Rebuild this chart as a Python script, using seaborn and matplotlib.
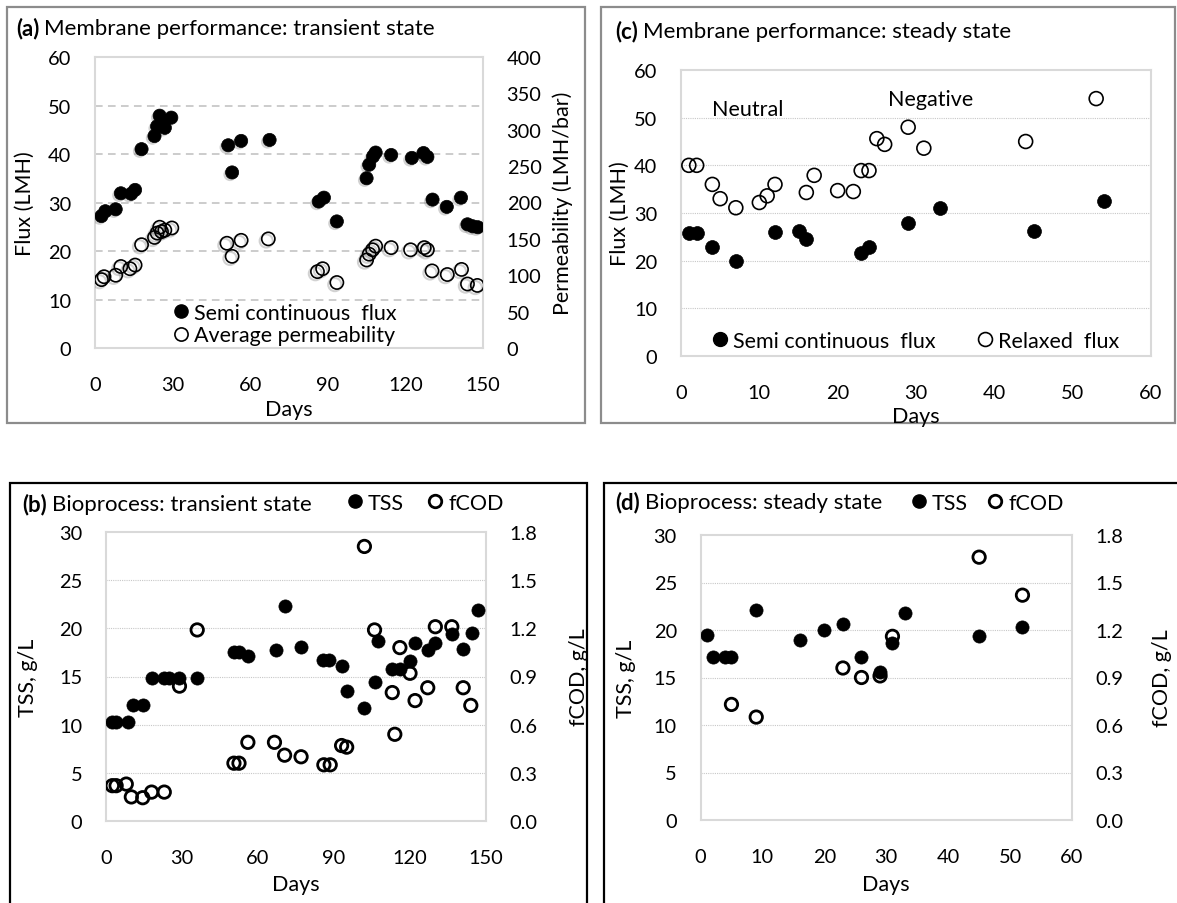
import numpy as np
import pandas as pd
import matplotlib
matplotlib.use("Agg")
import matplotlib.pyplot as plt
import seaborn as sns
from matplotlib.patches import Rectangle
from matplotlib.lines import Line2D
import matplotlib.patheffects as pe

# ---------------- data ----------------
# (a) Membrane performance: transient state
a_flux_days = [2.5, 4, 8, 10, 14, 15.5, 18, 23, 24, 25, 26, 27, 29.5, 51.5, 53, 56.5, 67.5,
               86.5, 88.5, 93.5, 105, 106, 107.5, 108.5, 114.5, 122.5, 127, 128.5, 130.5,
               136, 141.5, 144, 146, 148]
a_flux = [27.2, 28.2, 28.6, 31.9, 31.8, 32.6, 41.0, 43.7, 45.7, 47.9, 46.3, 45.4, 47.5, 41.8,
          36.2, 42.7, 42.9, 30.2, 31.0, 26.1, 35.0, 37.8, 39.5, 40.3, 39.8, 39.2, 40.2, 39.4,
          30.6, 29.1, 31.0, 25.5, 25.1, 24.9]
a_perm_days = [2.5, 3.5, 8, 10, 13.5, 15.5, 18, 23, 24, 25, 25.7, 27, 29.7, 51, 53, 56.5, 67,
               86, 88, 93.5, 105, 106, 107.3, 108.5, 114.5, 122, 127.3, 128.5, 130.3, 136.2,
               141.7, 144, 147.8]
a_perm = [94, 98, 100, 112, 109, 114, 142, 152, 158, 166, 160, 162, 165, 144, 126, 148, 150,
          105, 109, 90, 121, 129, 135, 140, 138, 135, 138, 135, 106, 101, 108, 88, 86]

# (c) Membrane performance: steady state
c_semi_days = [1, 2, 4, 7, 12, 15, 16, 23, 24, 29, 33, 45, 54]
c_semi = [25.8, 25.8, 22.9, 19.9, 26.0, 26.2, 24.5, 21.6, 22.8, 28.0, 31.1, 26.2, 32.5]
c_relax_days = [1, 2, 4, 5, 7, 10, 11, 12, 16, 17, 20, 22, 23, 24, 25, 26, 29, 31, 44, 53]
c_relax = [40, 40, 36, 33, 31.1, 32.2, 33.6, 36, 34.3, 37.9, 34.7, 34.5, 38.9, 38.9, 45.6,
           44.4, 48, 43.6, 45, 54]

# (b) Bioprocess: transient state
b_tss_days = [2.5, 4, 8.5, 10.5, 14.5, 18, 23, 25, 29, 36, 50.5, 52.5, 56, 67, 70.5, 77, 85.5,
              88, 93, 95, 102, 106, 107.5, 113, 116, 120, 122, 127, 130, 136.5, 141, 144.5, 147]
b_tss = [10.3, 10.3, 10.3, 12.0, 12.0, 14.8, 14.8, 14.8, 14.8, 14.8, 17.5, 17.5, 17.1, 17.8,
         22.3, 18.1, 16.7, 16.7, 16.1, 13.5, 11.7, 14.4, 18.7, 15.8, 15.8, 16.6, 18.5, 17.8,
         18.5, 19.4, 17.9, 19.5, 21.9]
b_fcod_days = [2.5, 4, 8, 10, 14.5, 18, 23, 29, 36, 50.5, 52.5, 56, 66.5, 70.5, 77, 86, 88.5,
               93, 95, 102, 106, 113, 114, 116, 120, 122, 127, 130, 136.5, 141, 144]
b_fcod = [0.22, 0.22, 0.23, 0.15, 0.145, 0.18, 0.18, 0.84, 1.19, 0.36, 0.36, 0.49, 0.49, 0.41,
          0.40, 0.35, 0.35, 0.47, 0.46, 1.71, 1.19, 0.80, 0.54, 1.08, 0.92, 0.75, 0.83, 1.21,
          1.21, 0.83, 0.72]

# (d) Bioprocess: steady state
d_tss_days = [1, 2, 4, 5, 9, 16, 20, 23, 26, 29, 31, 33, 45, 52]
d_tss = [19.5, 17.2, 17.2, 17.2, 22.1, 18.9, 20.0, 20.6, 17.2, 15.6, 18.6, 21.8, 19.4, 20.3]
d_fcod_days = [5, 9, 23, 26, 29, 31, 45, 52]
d_fcod = [0.73, 0.65, 0.96, 0.90, 0.91, 1.16, 1.66, 1.42]

# tick values
ticks_150 = [0, 30, 60, 90, 120, 150]
ticks_60 = [0, 10, 20, 30, 40, 50, 60]
ticks_perm = [0, 50, 100, 150, 200, 250, 300, 350, 400]
ticks_tss = [0, 5, 10, 15, 20, 25, 30]
ticks_fcod = [0.0, 0.3, 0.6, 0.9, 1.2, 1.5, 1.8]

# ---------------- style ----------------
sns.set_theme(style="white")
plt.rcParams['font.family'] = ['Lato', 'DejaVu Sans']
plt.rcParams['text.color'] = 'black'
plt.rcParams['axes.labelcolor'] = 'black'
plt.rcParams['xtick.color'] = 'black'
plt.rcParams['ytick.color'] = 'black'

W, H = 1177, 904
fig = plt.figure(figsize=(W / 100, H / 100), dpi=100)
FS = 14.4    # tick labels
LFS = 15.5   # axis labels, legends, annotations
TFS = 16.0   # panel titles


def fx(x):
    return x / W


def fy(y):
    return 1 - y / H


def axes_px(l, t, r, b):
    return fig.add_axes([l / W, 1 - b / H, (r - l) / W, (b - t) / H])


def frame_box(l, t, r, b, color, lw):
    fig.add_artist(Rectangle((fx(l), fy(b)), (r - l) / W, (b - t) / H,
                             transform=fig.transFigure, fill=False,
                             edgecolor=color, linewidth=lw, zorder=0))


def style(ax, twin=None):
    for s in ax.spines.values():
        s.set_color('#D9D9D9')
        s.set_linewidth(1.5)
    ax.tick_params(axis='both', length=0, labelsize=FS)
    ax.tick_params(axis='y', pad=17)
    ax.tick_params(axis='x', pad=20)
    ax.set_facecolor('none')
    if twin is not None:
        for s in twin.spines.values():
            s.set_visible(False)
        twin.tick_params(axis='y', length=0, labelsize=FS, pad=17)
        twin.grid(False)


def hgrid(ax, vals, dashed):
    for v in vals:
        if dashed:
            ax.axhline(v, color='#BFBFBF', lw=1.1, ls=(0, (5, 3.5)), zorder=0)
        else:
            ax.axhline(v, color='#C8C8C8', lw=0.8, ls=(0, (1, 1)), zorder=0)


def title(x, y, tag, rest):
    t1 = fig.text(fx(x), fy(y), tag, fontsize=TFS, fontweight='bold', va='center', ha='left')
    r = fig.canvas.get_renderer()
    bb = t1.get_window_extent(r)
    fig.text(fx(bb.x1 + 5), fy(y), rest, fontsize=TFS, va='center', ha='left')


def set_labels(ax, xlabel, ylabel, ylx, xly, twin=None, rlabel=None, rlx=None):
    ax.set_xlabel(xlabel, fontsize=LFS)
    ax.set_ylabel(ylabel, fontsize=LFS)
    ax.xaxis.label.set(va='center', ha='center')
    ax.yaxis.label.set(va='center', ha='center')
    ax.xaxis.set_label_coords(0.5, xly)
    ax.yaxis.set_label_coords(ylx, 0.5)
    if twin is not None:
        twin.set_ylabel(rlabel, fontsize=LFS)
        twin.yaxis.label.set(va='center', ha='center')
        twin.yaxis.set_label_coords(rlx, 0.5)


filled_h = lambda ms: Line2D([], [], ls='none', marker='o', ms=ms, mfc='black', mec='black')
open_h = lambda ms, mew: Line2D([], [], ls='none', marker='o', ms=ms, mfc='none', mec='black', mew=mew)

shadow_fill = [pe.SimplePatchShadow(offset=(-1.5, -1.5), shadow_rgbFace='#808080', alpha=0.35), pe.Normal()]
shadow_line = [pe.SimpleLineShadow(offset=(-1.5, -1.5), shadow_color='#808080', alpha=0.35, linewidth=1.5), pe.Normal()]

# ---------------- panel boxes ----------------
frame_box(6.5, 8, 585, 424, '#8C8C8C', 1.6)
frame_box(601, 8, 1175, 424, '#8C8C8C', 1.6)
frame_box(10, 484, 587, 920, 'black', 1.6)
frame_box(604, 484, 1185, 920, 'black', 1.6)

# ---------------- (a) ----------------
ax = axes_px(95, 58, 483, 349)
ax2 = ax.twinx()
style(ax, ax2)
hgrid(ax, [10, 20, 30, 40, 50], dashed=True)
sns.scatterplot(x=a_flux_days, y=a_flux, ax=ax, s=90, color='black', edgecolor='black',
                linewidth=0.5, legend=False, zorder=3)
ax.collections[-1].set_path_effects(shadow_fill)
sns.scatterplot(x=a_perm_days, y=a_perm, ax=ax2, s=90, facecolor='none', edgecolor='black',
                linewidth=1.2, legend=False, zorder=3)
ax2.collections[-1].set_path_effects(shadow_line)
ax.set_xlim(0, 150); ax.set_ylim(0, 60)
ax2.set_ylim(0, 400)
ax.set_xticks(ticks_150); ax.set_yticks(ticks_60); ax2.set_yticks(ticks_perm)
set_labels(ax, 'Days', 'Flux (LMH)', -0.18, -0.21, ax2, 'Permeability (LMH/bar)', 1.206)
ax2.set_zorder(ax.get_zorder() + 1)
ax.legend([filled_h(9.5), open_h(9.5, 1.2)], ['Semi continuous  flux', 'Average permeability'],
          loc='center left', bbox_to_anchor=(fx(173.5), fy(325)), bbox_transform=fig.transFigure,
          frameon=False, fontsize=LFS, handlelength=0.7, handletextpad=0.25, labelspacing=0.12,
          borderpad=0, borderaxespad=0)
title(16, 29, '(a)', 'Membrane performance: transient state')

# ---------------- (c) ----------------
ax = axes_px(681, 71, 1151, 357)
style(ax)
hgrid(ax, [10, 20, 30, 40, 50], dashed=False)
sns.scatterplot(x=c_semi_days, y=c_semi, ax=ax, s=100, color='black', edgecolor='black',
                linewidth=0.5, legend=False, zorder=3)
sns.scatterplot(x=c_relax_days, y=c_relax, ax=ax, s=100, facecolor='none', edgecolor='black',
                linewidth=1.2, legend=False, zorder=3)
ax.set_xlim(0, 60); ax.set_ylim(0, 60)
ax.set_xticks(ticks_60); ax.set_yticks(ticks_60)
set_labels(ax, 'Days', 'Flux (LMH)', -0.13, -0.21)
ax.text(8.5, 51.8, 'Neutral', fontsize=LFS, ha='center', va='center')
ax.text(31.9, 53.9, 'Negative', fontsize=LFS, ha='center', va='center')
ax.legend([filled_h(10), open_h(10, 1.2)], ['Semi continuous  flux', 'Relaxed  flux'],
          loc='center left', bbox_to_anchor=(fx(712.5), fy(342)), bbox_transform=fig.transFigure,
          frameon=False, fontsize=LFS, handlelength=0.7, handletextpad=0.25, ncol=2,
          columnspacing=1.95, borderpad=0, borderaxespad=0)
title(615, 32, '(c)', 'Membrane performance: steady state')

# ---------------- (b) ----------------
ax = axes_px(106, 533, 486, 822)
ax2 = ax.twinx()
style(ax, ax2)
hgrid(ax, [5, 10, 15, 20, 25], dashed=False)
sns.scatterplot(x=b_tss_days, y=b_tss, ax=ax, s=90, color='black', edgecolor='black',
                linewidth=0.5, legend=False, zorder=3)
sns.scatterplot(x=b_fcod_days, y=b_fcod, ax=ax2, s=80, facecolor='none', edgecolor='black',
                linewidth=2.0, legend=False, zorder=3)
ax.set_xlim(0, 150); ax.set_ylim(0, 30)
ax2.set_ylim(0, 1.8)
ax.set_xticks(ticks_150); ax.set_yticks(ticks_tss); ax2.set_yticks(ticks_fcod)
ax2.set_yticklabels([f'{v:.1f}' for v in ticks_fcod])
set_labels(ax, 'Days', 'TSS, g/L', -0.205, -0.218, ax2, 'fCOD, g/L', 1.246)
ax2.set_zorder(ax.get_zorder() + 1)
fig.legend([filled_h(9.5), open_h(9, 2.0)], ['TSS', 'fCOD'],
           loc='center left', bbox_to_anchor=(fx(347.5), fy(504)), bbox_transform=fig.transFigure,
           frameon=False, fontsize=LFS, handlelength=0.7, handletextpad=0.25, ncol=2,
           columnspacing=1.1, borderpad=0, borderaxespad=0)
title(22, 505, '(b)', 'Bioprocess: transient state')

# ---------------- (d) ----------------
ax = axes_px(700.5, 536, 1072, 821)
ax2 = ax.twinx()
style(ax, ax2)
hgrid(ax, [5, 10, 15, 20, 25], dashed=False)
sns.scatterplot(x=d_tss_days, y=d_tss, ax=ax, s=90, color='black', edgecolor='black',
                linewidth=0.5, legend=False, zorder=3)
sns.scatterplot(x=d_fcod_days, y=d_fcod, ax=ax2, s=80, facecolor='none', edgecolor='black',
                linewidth=2.0, legend=False, zorder=3)
ax.set_xlim(0, 60); ax.set_ylim(0, 30)
ax2.set_ylim(0, 1.8)
ax.set_xticks(ticks_60); ax.set_yticks(ticks_tss); ax2.set_yticks(ticks_fcod)
ax2.set_yticklabels([f'{v:.1f}' for v in ticks_fcod])
set_labels(ax, 'Days', 'TSS, g/L', -0.2, -0.225, ax2, 'fCOD, g/L', 1.242)
ax2.set_zorder(ax.get_zorder() + 1)
fig.legend([filled_h(9.5), open_h(9, 2.0)], ['TSS', 'fCOD'],
           loc='center left', bbox_to_anchor=(fx(911), fy(504)), bbox_transform=fig.transFigure,
           frameon=False, fontsize=LFS, handlelength=0.7, handletextpad=0.25, ncol=2,
           columnspacing=0.95, borderpad=0, borderaxespad=0)
title(615, 503, '(d)', 'Bioprocess: steady state')

fig.savefig('out.png', dpi=100, facecolor='white')
